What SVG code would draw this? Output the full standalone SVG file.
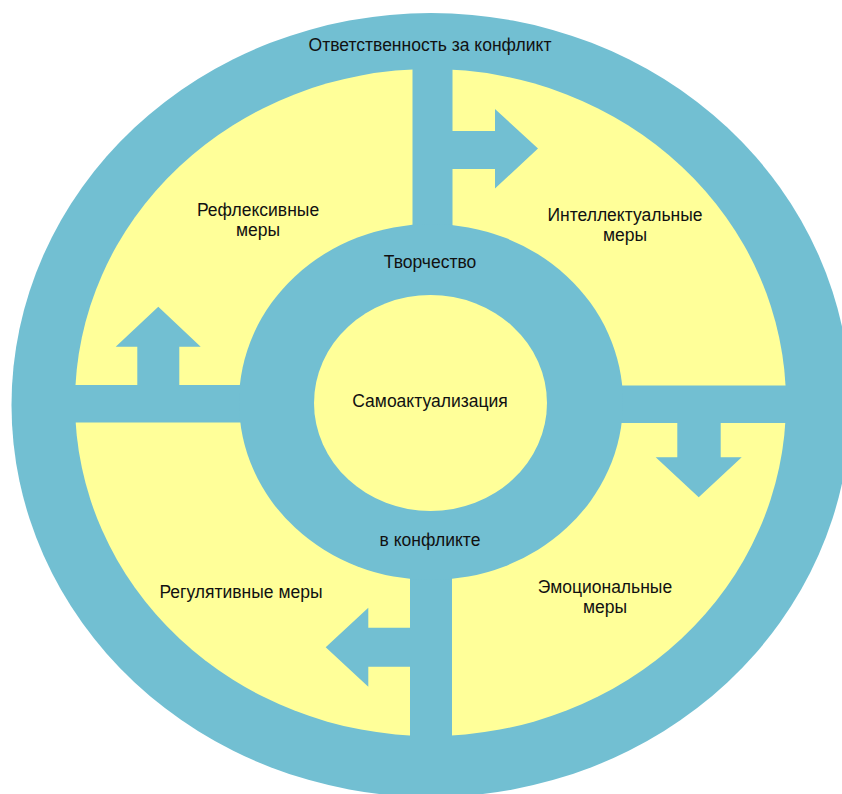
<svg xmlns="http://www.w3.org/2000/svg" width="842" height="794" viewBox="0 0 842 794">
<style>
.blue{fill:#72BFD2}
.yellow{fill:#FFFF99}
.lbl{font-family:"Liberation Sans",Arial,sans-serif;font-size:17.5px;fill:#111;text-anchor:middle}
</style>
<rect width="842" height="794" fill="#FFFFFF"/>
<g id="outer-ring">
<ellipse class="blue" cx="431" cy="405" rx="419.5" ry="392"/>
<text class="lbl" x="430" y="51">Ответственность за конфликт</text>
</g>
<g id="measures-field">
<ellipse class="yellow" cx="430.5" cy="402.5" rx="355.5" ry="333.5"/>
</g>
<g id="bars">
<rect class="blue" x="412.5" y="69" width="40" height="160"/>
<rect class="blue" x="410" y="575" width="42" height="161"/>
<rect class="blue" x="75" y="385" width="170" height="37.5"/>
<rect class="blue" x="617" y="385.5" width="169" height="37.5"/>
</g>
<g id="creativity-ring">
<ellipse class="blue" cx="431" cy="402" rx="192" ry="178"/>
<text class="lbl" x="430" y="268">Творчество</text>
<text class="lbl" x="430" y="546">в конфликте</text>
</g>
<g id="self-actualization">
<ellipse class="yellow" cx="430.5" cy="403" rx="116.5" ry="108"/>
<text class="lbl" x="430" y="407">Самоактуализация</text>
</g>
<g id="connectors">
<polygon class="blue" points="452,131 495,131 495,109 538,148.5 495,188.5 495,169 452,169"/>
<polygon class="blue" points="158.3,306.7 200.7,346.7 179.3,346.7 179.3,385 137.3,385 137.3,346.7 115.7,346.7"/>
<polygon class="blue" points="677.3,423 720.7,423 720.7,457.3 741.7,457.3 698.7,497.3 655.7,457.3 677.3,457.3"/>
<polygon class="blue" points="410,627.7 368.3,627.7 368.3,607.7 325.7,647.3 368.3,686.7 368.3,666.7 410,666.7"/>
</g>
<g id="reflexive">
<text class="lbl" x="258" y="216">Рефлексивные</text>
<text class="lbl" x="258" y="236">меры</text>
</g>
<g id="intellectual">
<text class="lbl" x="625" y="221">Интеллектуальные</text>
<text class="lbl" x="625" y="241">меры</text>
</g>
<g id="regulative">
<text class="lbl" x="241" y="598">Регулятивные меры</text>
</g>
<g id="emotional">
<text class="lbl" x="605" y="593">Эмоциональные</text>
<text class="lbl" x="605" y="613">меры</text>
</g>
</svg>
